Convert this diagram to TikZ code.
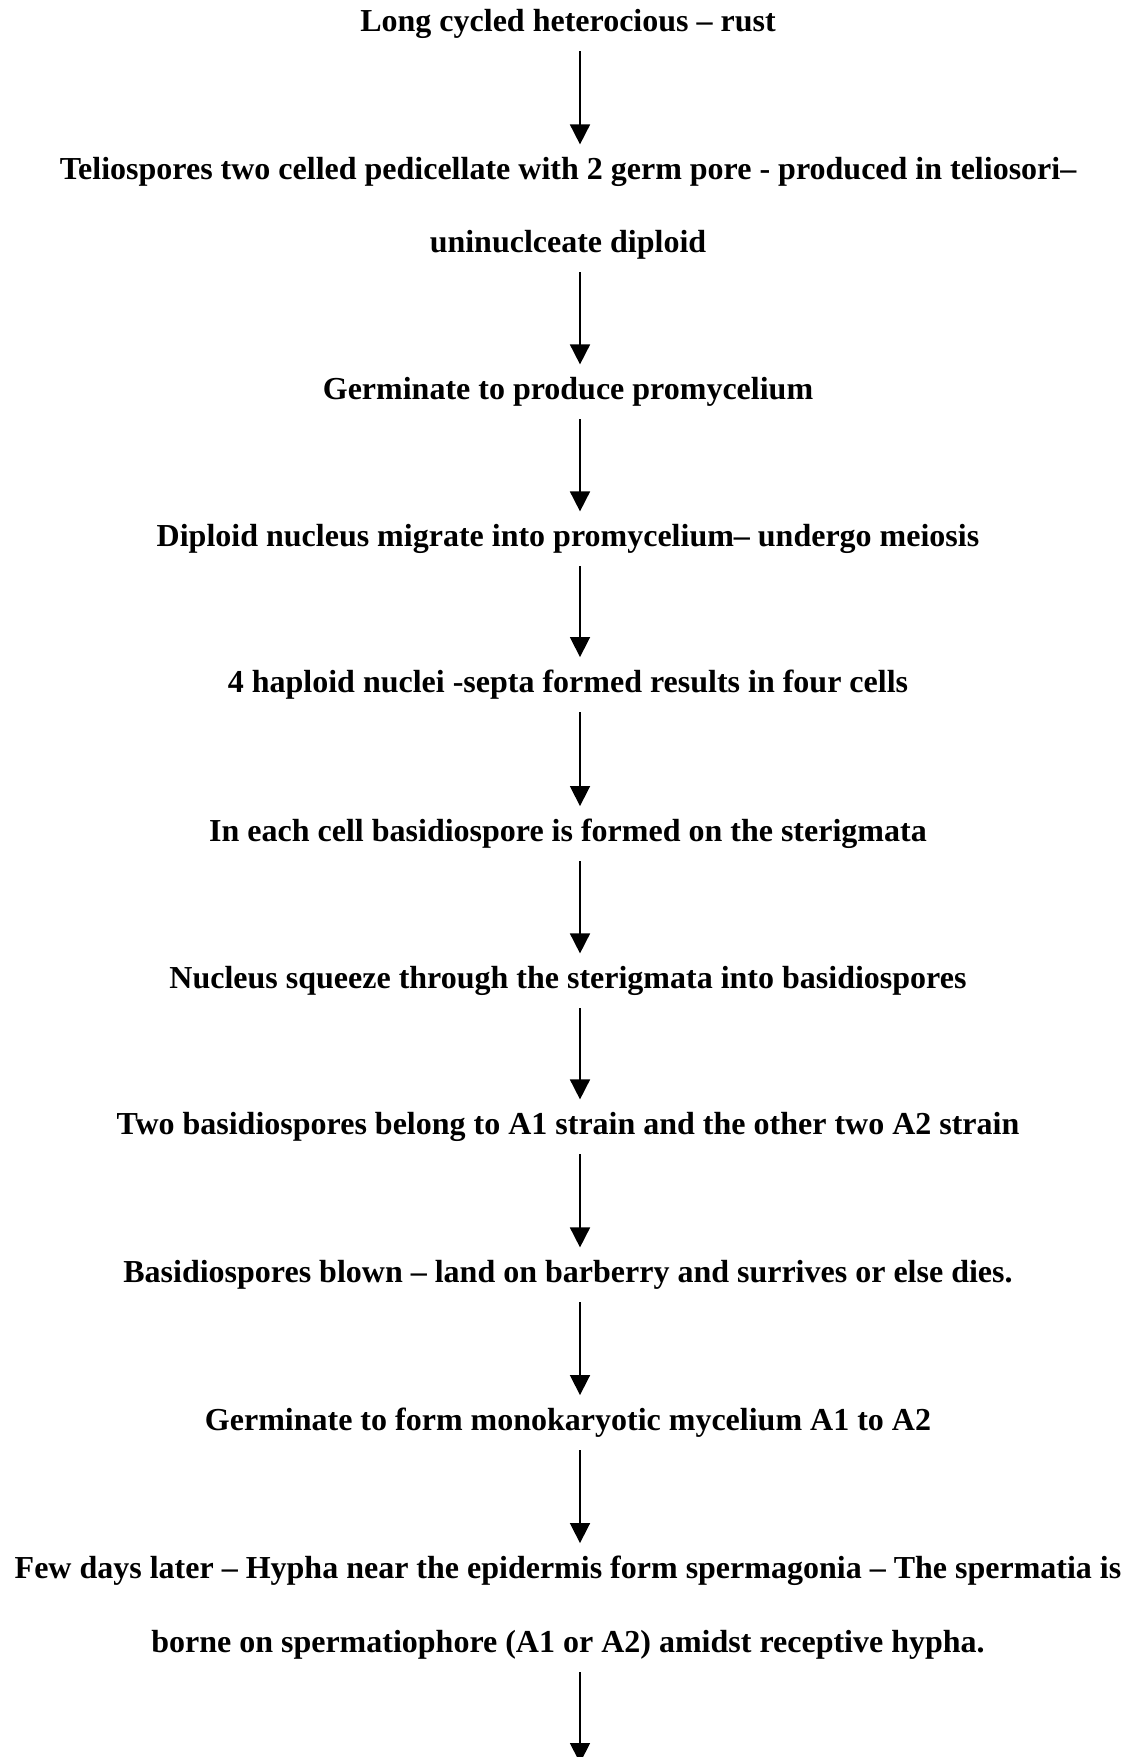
\documentclass[tikz,border=0pt]{standalone}
\usepackage{fontspec}
\setmainfont{Liberation Serif}
\usetikzlibrary{arrows.meta, calc}
\tikzstyle{stage} = [inner sep=0pt, anchor=base, font=\bfseries\fontsize{16}{19}\selectfont]
\tikzstyle{flow} = [line width=0.85pt, -{Triangle[length=10pt, width=10pt]}, shorten <=10pt, shorten >=6pt]

\begin{document}
\begin{tikzpicture}[x=0.5pt, y=-0.5pt]
\useasboundingbox (0,0) rectangle (1128,1757);
\coordinate (ax) at (580,0);
\coordinate (bottom) at (580,1775);
\node (t1) [stage] at (568,31) {Long cycled heterocious -- rust};
\node (t2) [stage] at (568,179) {Teliospores two celled pedicellate with 2 germ pore - produced in teliosori--};
\node (t2b) [stage] at (568,252) {uninuclceate diploid};
\node (t3) [stage] at (568,399) {Germinate to produce promycelium};
\node (t4) [stage] at (568,546) {Diploid nucleus migrate into promycelium-- undergo meiosis};
\node (t5) [stage] at (568,692) {4 haploid nuclei -septa formed results in four cells};
\node (t6) [stage] at (568,841) {In each cell basidiospore is formed on the sterigmata};
\node (t7) [stage] at (568,988) {Nucleus squeeze through the sterigmata into basidiospores};
\node (t8) [stage] at (568,1134) {Two basidiospores belong to A1 strain and the other two A2 strain};
\node (t9) [stage] at (568,1282) {Basidiospores blown -- land on barberry and surrives or else dies.};
\node (t10) [stage] at (568,1430) {Germinate to form monokaryotic mycelium A1 to A2};
\node (t11) [stage] at (568,1578) {Few days later -- Hypha near the epidermis form spermagonia -- The spermatia is};
\node (t11b) [stage] at (568,1652) {borne on spermatiophore (A1 or A2) amidst receptive hypha.};

\draw[flow] (t1.base -| ax) -- (t2.north -| ax);
\draw[flow] (t2b.base -| ax) -- (t3.north -| ax);
\draw[flow] (t3.base -| ax) -- (t4.north -| ax);
\draw[flow] (t4.base -| ax) -- (t5.north -| ax);
\draw[flow] (t5.base -| ax) -- (t6.north -| ax);
\draw[flow] (t6.base -| ax) -- (t7.north -| ax);
\draw[flow] (t7.base -| ax) -- (t8.north -| ax);
\draw[flow] (t8.base -| ax) -- (t9.north -| ax);
\draw[flow] (t9.base -| ax) -- (t10.north -| ax);
\draw[flow] (t10.base -| ax) -- (t11.north -| ax);
\draw[flow] (t11b.base -| ax) -- (bottom);
\end{tikzpicture}
\end{document}
